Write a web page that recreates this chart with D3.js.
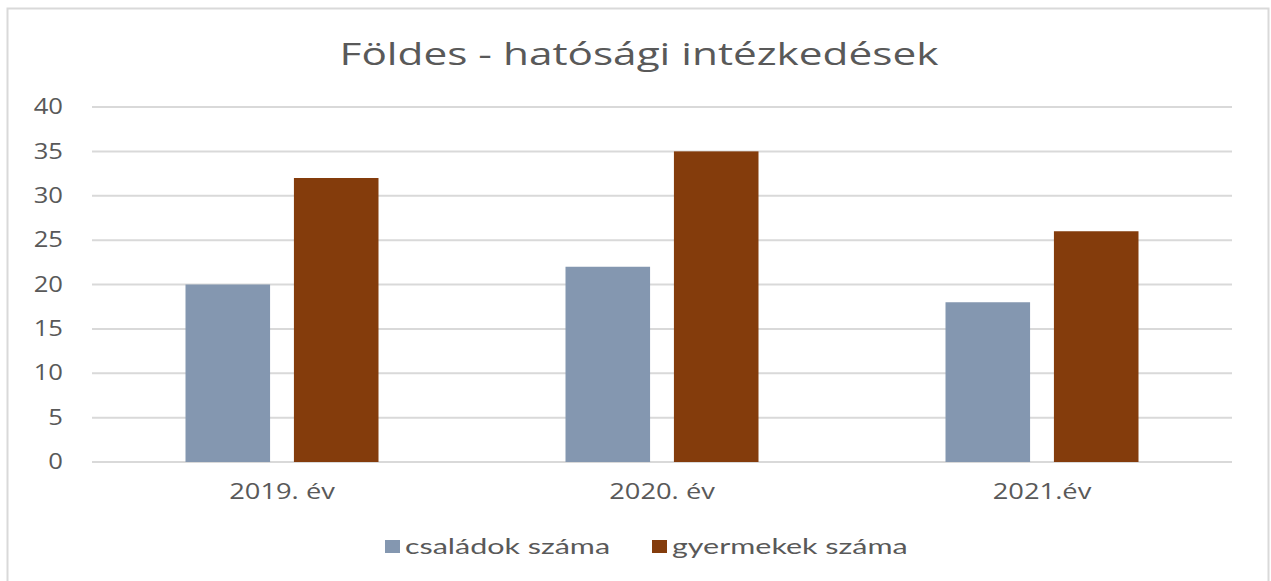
<!DOCTYPE html>
<html>
<head>
<meta charset="utf-8">
<script src="https://cdn.jsdelivr.net/npm/d3@7"></script>
<style>
  body { margin: 0; background: #fff; }
  text { fill: #595959; }
</style>
</head>
<body>
<div id="chart"></div>
<script>
var width = 1271;
var height = 581;
var margin = {top: 107, bottom: 119, left: 92, right: 39};

var years = ["2019. év", "2020. év", "2021.év"];
var seriesNames = ["családok száma", "gyermekek száma"];
var csaladok = [20, 22, 18];
var gyermekek = [32, 35, 26];
var yTicks = [0, 5, 10, 15, 20, 25, 30, 35, 40];
var colors = ["#8497B0", "#843C0C"];

// the original picture is stretched sideways, so widen the glyphs a bit
function stretch(sel, factor) {
  sel.each(function() {
    var w = this.getComputedTextLength();
    d3.select(this)
      .attr("textLength", w * factor)
      .attr("lengthAdjust", "spacingAndGlyphs");
  });
}

var svg = d3.select("#chart")
  .append("svg")
  .attr("width", width)
  .attr("height", height);

// chart border
svg.append("rect")
  .attr("x", 7.5).attr("y", 8.5)
  .attr("width", 1261).attr("height", 600)
  .style("fill", "none")
  .style("stroke", "#d9d9d9")
  .style("stroke-width", 2);

svg.append("text")
  .attr("x", 639)
  .attr("y", 65)
  .attr("text-anchor", "middle")
  .style("font-family", "Open Sans")
  .style("font-size", "31px")
  .text("Földes - hatósági intézkedések")
  .call(stretch, 1.365);

var x = d3.scaleBand()
  .domain(years)
  .range([margin.left, width - margin.right]);

var x1 = d3.scaleBand()
  .domain(seriesNames)
  .range([0, 193])
  .paddingInner(0.22);

var y = d3.scaleLinear()
  .domain([0, 40])
  .range([height - margin.bottom, margin.top]);

// gridlines
svg.append("g")
  .selectAll("line")
  .data(yTicks)
  .enter()
  .append("line")
  .attr("x1", margin.left)
  .attr("x2", width - margin.right)
  .attr("y1", function(d) { return y(d); })
  .attr("y2", function(d) { return y(d); })
  .style("stroke", "#d9d9d9")
  .style("stroke-width", 2);

var yAxis = svg.append("g")
  .attr("transform", "translate(63,0)")
  .call(d3.axisLeft(y).tickValues(yTicks).tickSize(0).tickPadding(0));
yAxis.select(".domain").remove();
yAxis.selectAll("text")
  .style("font-family", "Open Sans")
  .style("font-size", "21px")
  .style("fill", "#595959")
  .call(stretch, 1.22);

var rows = years.map(function(yr, i) {
  return {year: yr, values: [
    {name: seriesNames[0], value: csaladok[i]},
    {name: seriesNames[1], value: gyermekek[i]}
  ]};
});

var groups = svg.append("g")
  .selectAll("g")
  .data(rows)
  .enter()
  .append("g")
  .attr("transform", function(d) {
    return "translate(" + (x(d.year) + x.bandwidth() / 2 - 96.5) + ",0)";
  });

groups.selectAll("rect")
  .data(function(d) { return d.values; })
  .enter()
  .append("rect")
  .attr("x", function(d) { return x1(d.name); })
  .attr("width", x1.bandwidth())
  .attr("y", function(d) { return y(d.value); })
  .attr("height", function(d) { return y(0) - y(d.value); })
  .style("fill", function(d, i) { return colors[i]; });

var xAxis = svg.append("g")
  .attr("transform", "translate(0," + (height - margin.bottom) + ")")
  .call(d3.axisBottom(x).tickSize(0).tickPadding(22));
xAxis.select(".domain").remove();
xAxis.selectAll("text")
  .style("font-family", "Open Sans")
  .style("font-size", "21px")
  .style("fill", "#595959")
  .call(stretch, 1.3);

// legend
var legendX = [385, 652];
var legend = svg.append("g")
  .selectAll("g")
  .data(seriesNames)
  .enter()
  .append("g")
  .attr("transform", function(d, i) { return "translate(" + legendX[i] + ",540)"; });

legend.append("rect")
  .attr("width", 15)
  .attr("height", 13)
  .style("fill", function(d, i) { return colors[i]; });

legend.append("text")
  .attr("x", 20)
  .attr("y", 14)
  .style("font-family", "Lato")
  .style("font-size", "21px")
  .text(function(d) { return d; })
  .call(stretch, 1.45);
</script>
</body>
</html>
